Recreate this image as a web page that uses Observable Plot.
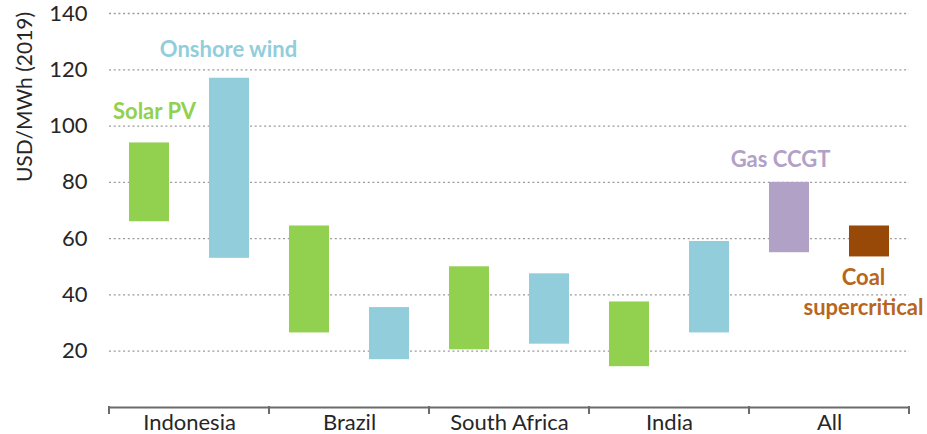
<!DOCTYPE html>
<html><head><meta charset="utf-8">
<script src="https://cdn.jsdelivr.net/npm/d3@7"></script>
<script src="https://cdn.jsdelivr.net/npm/@observablehq/plot@0.6"></script>
<style>
html,body{margin:0;padding:0;background:#fff;}
#chart{width:927px;height:434px;}
</style></head>
<body><div id="chart"></div>
<script>
// ---- data ----
const regions = ["Indonesia","Brazil","South Africa","India","All"];
const barRegion = ["Indonesia","Indonesia","Brazil","Brazil","South Africa","South Africa","India","India","All","All"];
const barTech = ["Solar PV","Onshore wind","Solar PV","Onshore wind","Solar PV","Onshore wind","Solar PV","Onshore wind","Gas CCGT","Coal supercritical"];
const barLow  = [66, 53, 26.5, 17, 20.5, 22.5, 14.5, 26.5, 55, 53.5];
const barHigh = [94, 117, 64.5, 35.5, 50, 47.5, 37.5, 59, 80, 64.5];
const yTicks = [20, 40, 60, 80, 100, 120, 140];
const techNames = ["Solar PV","Onshore wind","Gas CCGT","Coal supercritical"];
const techColors = ["#92D050","#92CDDC","#B2A1C7","#984807"];
const labelColors = ["#92D050","#92CDDC","#B2A1C7","#B8651E"];
const yLabel = "USD/MWh (2019)";

const bars = barRegion.map((r, i) => ({
  region: r, slot: i % 2 === 0 ? "a" : "b", tech: barTech[i], low: barLow[i], high: barHigh[i]
}));

// annotation anchors (label text, region, slot, value)
const notes = [
  {text: "Solar PV", region: "Indonesia", slot: "a", y: 106},
  {text: "Onshore wind", region: "Indonesia", slot: "b", y: 127.8},
  {text: "Gas CCGT", region: "All", slot: "a", y: 89},
  {text: "Coal\nsupercritical", region: "All", slot: "b", y: 41.5}
];

const font = "Lato, 'Open Sans', sans-serif";
const noteMark = (i, dx) => Plot.text([notes[i]], {
  fx: "region", x: "slot", y: "y", text: "text", fill: labelColors[i],
  fontSize: 22, fontWeight: "bold", dx, lineHeight: 1.36
});

const plot = Plot.plot({
  width: 927, height: 434,
  marginLeft: 109, marginRight: 18, marginTop: 13, marginBottom: 27,
  style: {fontFamily: font, background: "#fff"},
  fx: {domain: regions, padding: 0, label: null},
  x: {domain: ["a","b"], paddingInner: 0.5, paddingOuter: 0.25, axis: null},
  y: {domain: [0, 140]},
  color: {domain: techNames, range: techColors},
  marks: [
    Plot.gridY(yTicks, {stroke: "#9a9a9a", strokeOpacity: 1, strokeDasharray: "2,2.7", strokeWidth: 1.3}),
    Plot.barY(bars, {fx: "region", x: "slot", y1: "low", y2: "high", fill: "tech"}),
    Plot.ruleY([0], {stroke: "#6b6b6b", strokeWidth: 2}),
    Plot.axisY(yTicks, {tickSize: 0, tickPadding: 22, fontSize: 22, fill: "#262626", label: null}),
    Plot.axisFx({anchor: "bottom", tickSize: 0, tickPadding: 7, fontSize: 22, fill: "#262626", label: null}),
    noteMark(0, 5),
    noteMark(1, -1),
    noteMark(2, -9),
    noteMark(3, -6)
  ]
});
document.getElementById("chart").appendChild(plot);

// group separator ticks, placed with the plot's own fx and y scales
const fx = plot.scale("fx"), ys = plot.scale("y");
const y0 = ys.apply(0);
const edges = regions.map(r => fx.apply(r)).concat([fx.apply(regions[regions.length-1]) + fx.bandwidth]);
const svg = d3.select(plot);
svg.append("g").selectAll("line").data(edges).join("line")
  .attr("x1", d => d).attr("x2", d => d)
  .attr("y1", y0 - 1).attr("y2", y0 + 7)
  .attr("stroke", "#6b6b6b").attr("stroke-width", 2);

// rotated y-axis title
svg.append("text")
  .attr("transform", "translate(32,97) rotate(-90)")
  .attr("text-anchor", "middle")
  .attr("font-family", font).attr("font-size", 21).attr("fill", "#262626")
  .text(yLabel);
</script>
</body></html>
